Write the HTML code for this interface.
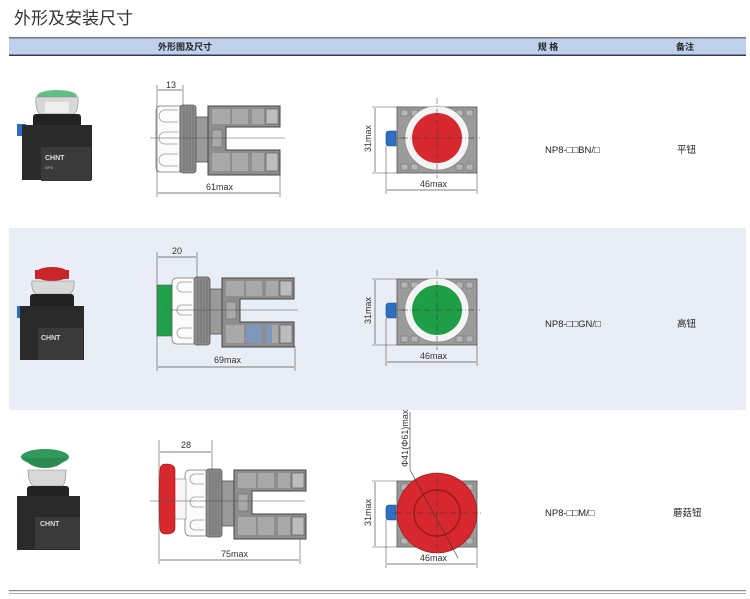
<!DOCTYPE html>
<html><head><meta charset="utf-8"><style>
body{margin:0;background:#fff;}
svg{display:block;font-family:"Liberation Sans","Noto Sans CJK SC",sans-serif;}
</style></head><body>
<svg width="750" height="599" viewBox="0 0 750 599" xmlns="http://www.w3.org/2000/svg">
<defs>
<g id="body">
  <!-- ring -->
  <rect x="180" y="105" width="16" height="68" rx="3" fill="#8c8c8c" stroke="#555" stroke-width="0.8"/>
  <g stroke="#666" stroke-width="0.7">
    <line x1="184" y1="107" x2="184" y2="171"/><line x1="187" y1="107" x2="187" y2="171"/>
    <line x1="190" y1="107" x2="190" y2="171"/><line x1="193" y1="107" x2="193" y2="171"/>
  </g>
  <rect x="196" y="117" width="12" height="45" fill="#9a9a9a" stroke="#555" stroke-width="0.8"/>
  <path d="M208 106 H280 V127 H226 V150 H280 V175 H208 Z" fill="#8e8e8e" stroke="#444" stroke-width="1"/>
  <rect x="212" y="109" width="18" height="15" fill="#a9a9a9"/>
  <rect x="232" y="109" width="16" height="15" fill="#a9a9a9"/>
  <rect x="252" y="109" width="12" height="15" fill="#a9a9a9"/>
  <rect x="212" y="153" width="18" height="18" fill="#a9a9a9"/>
  <rect x="232" y="153" width="16" height="18" fill="#a9a9a9"/>
  <rect x="252" y="153" width="12" height="18" fill="#a9a9a9"/>
  <rect x="266" y="109" width="12" height="15" fill="#bdbdbd" stroke="#555" stroke-width="0.6"/>
  <rect x="266" y="153" width="12" height="18" fill="#bdbdbd" stroke="#555" stroke-width="0.6"/>
  <rect x="212" y="130" width="10" height="17" fill="#a9a9a9" stroke="#666" stroke-width="0.5"/>
</g>
<g id="cap">
  <path d="M160 106 H180 V172 H160 Q156 172 156 166 V112 Q156 106 160 106 Z" fill="#fbfbfb" stroke="#777" stroke-width="0.8"/>
  <g fill="none" stroke="#999" stroke-width="0.8">
    <path d="M178 110 H165 A6 6 0 0 0 165 122 H178"/>
    <path d="M178 132 H165 A6 6 0 0 0 165 144 H178"/>
    <path d="M178 154 H165 A6 6 0 0 0 165 166 H178"/>
  </g>
</g>
<g id="front">
  <rect x="397" y="107" width="80" height="66" fill="#9b9b9b" stroke="#555" stroke-width="0.8"/>
  <g fill="#b5b5b5" stroke="#666" stroke-width="0.5">
    <rect x="401" y="110" width="7" height="6"/><rect x="411" y="110" width="7" height="6"/><rect x="456" y="110" width="7" height="6"/><rect x="466" y="110" width="7" height="6"/>
    <rect x="401" y="164" width="7" height="6"/><rect x="411" y="164" width="7" height="6"/><rect x="456" y="164" width="7" height="6"/><rect x="466" y="164" width="7" height="6"/>
  </g>
  <path d="M389 131 H396 V146 H389 Q386 146 386 143 V134 Q386 131 389 131 Z" fill="#2f6fc0" stroke="#1b4a8a" stroke-width="0.6"/>
  <line x1="396" y1="138" x2="405" y2="138" stroke="#555" stroke-width="0.6"/>
  <line x1="372" y1="107" x2="397" y2="107" stroke="#555" stroke-width="0.6"/>
  <line x1="372" y1="173" x2="397" y2="173" stroke="#555" stroke-width="0.6"/>
  <line x1="375" y1="108" x2="375" y2="172" stroke="#555" stroke-width="0.7"/>
  <text x="0" y="0" font-size="9" fill="#333" transform="translate(371 152) rotate(-90)">31max</text>
  <line x1="386" y1="146" x2="386" y2="194" stroke="#555" stroke-width="0.6"/>
  <line x1="477" y1="173" x2="477" y2="194" stroke="#555" stroke-width="0.6"/>
  <line x1="387" y1="190" x2="476" y2="190" stroke="#555" stroke-width="0.7"/>
  <text x="420" y="187" font-size="9" fill="#333">46max</text>
</g>
</defs>

<text x="14" y="24" font-size="17" fill="#333">外形及安装尺寸</text>

<!-- header -->
<rect x="9" y="37" width="737" height="19" fill="#bfd1ea"/>
<rect x="9" y="37" width="737" height="1.5" fill="#777"/>
<rect x="9" y="54.5" width="737" height="1.5" fill="#2e3a55"/>
<text x="185" y="50" font-size="9" font-weight="bold" fill="#222" text-anchor="middle">外形图及尺寸</text>
<text x="548" y="50" font-size="9" font-weight="bold" fill="#222" text-anchor="middle">规 格</text>
<text x="685" y="50" font-size="9" font-weight="bold" fill="#222" text-anchor="middle">备注</text>

<!-- row 2 bg -->
<rect x="9" y="228" width="737" height="182" fill="#e8edf6"/>

<!-- bottom lines -->
<rect x="9" y="590" width="737" height="1.2" fill="#888"/>
<rect x="9" y="593" width="737" height="1" fill="#aaa"/>

<!-- spec text -->
<g font-size="9.5" fill="#222">
<text x="545" y="153">NP8-□□BN/□</text><text x="677" y="153">平钮</text>
<text x="545" y="327">NP8-□□GN/□</text><text x="677" y="327">高钮</text>
<text x="545" y="516">NP8-□□M/□</text><text x="673" y="516">蘑菇钮</text>
</g>

<!-- photos -->
<g id="photo1">
  <ellipse cx="57" cy="96" rx="20" ry="6" fill="#5fbf85"/>
  <path d="M36 97 Q35 110 40 114 H74 Q79 110 78 97 Z" fill="#d8d8d8" stroke="#888" stroke-width="0.6"/>
  <rect x="45" y="102" width="24" height="11" fill="#eee"/>
  <rect x="33" y="114" width="48" height="16" rx="3" fill="#222"/>
  <rect x="17" y="124" width="9" height="12" fill="#2a6cc0"/>
  <rect x="22" y="125" width="70" height="55" fill="#2a2a2a"/>
  <rect x="41" y="147" width="50" height="34" fill="#3a3a3a"/>
  <text x="45" y="160" font-size="7" font-weight="bold" fill="#ddd">CHNT</text>
  <text x="45" y="169" font-size="4" fill="#bbb">NP8</text>
</g>
<g transform="translate(0,178)">
  <ellipse cx="52" cy="96" rx="17" ry="7" fill="#c8262a"/>
  <rect x="35" y="92" width="34" height="9" fill="#c8262a"/>
  <path d="M32 103 Q31 112 36 116 H70 Q75 112 74 103 Z" fill="#d8d8d8" stroke="#888" stroke-width="0.6"/>
  <rect x="30" y="116" width="44" height="16" rx="3" fill="#222"/>
  <rect x="17" y="128" width="9" height="12" fill="#2a6cc0"/>
  <rect x="20" y="128" width="64" height="54" fill="#2a2a2a"/>
  <rect x="38" y="150" width="45" height="32" fill="#3a3a3a"/>
  <text x="41" y="162" font-size="7" font-weight="bold" fill="#ddd">CHNT</text>
</g>
<g transform="translate(0,400)">
  <ellipse cx="45" cy="57" rx="24" ry="8" fill="#2f9a5c"/>
  <path d="M24 58 Q30 68 45 68 Q60 68 66 58 Z" fill="#2a8a50"/>
  <path d="M28 70 Q28 82 33 86 H63 Q66 82 66 70 Z" fill="#d8d8d8" stroke="#888" stroke-width="0.6"/>
  <rect x="27" y="86" width="42" height="14" rx="3" fill="#222"/>
  <rect x="17" y="96" width="9" height="12" fill="#2a6cc0"/>
  <rect x="17" y="96" width="63" height="54" fill="#2a2a2a"/>
  <rect x="35" y="117" width="45" height="32" fill="#3a3a3a"/>
  <text x="40" y="126" font-size="7" font-weight="bold" fill="#ddd">CHNT</text>
</g>

<!-- row1 side -->
<use href="#cap"/>
<use href="#body"/>
<line x1="150" y1="138" x2="285" y2="138" stroke="#555" stroke-width="0.6"/>
<line x1="157" y1="85" x2="157" y2="197" stroke="#555" stroke-width="0.6"/>
<line x1="183" y1="85" x2="183" y2="106" stroke="#555" stroke-width="0.6"/>
<line x1="158" y1="90" x2="182" y2="90" stroke="#555" stroke-width="0.7"/>
<text x="166" y="88" font-size="9" fill="#333">13</text>
<line x1="280" y1="175" x2="280" y2="197" stroke="#555" stroke-width="0.6"/>
<line x1="158" y1="193" x2="279" y2="193" stroke="#555" stroke-width="0.7"/>
<text x="206" y="190" font-size="9" fill="#333">61max</text>
<!-- row1 front -->
<use href="#front"/>
<circle cx="437" cy="138" r="32" fill="#f4f4f4" stroke="#888" stroke-width="0.6"/>
<circle cx="437" cy="138" r="25" fill="#d6282e"/>
<line x1="402" y1="138" x2="480" y2="138" stroke="#333" stroke-width="0.5" stroke-dasharray="6 2 1 2"/>
<line x1="437" y1="98" x2="437" y2="178" stroke="#333" stroke-width="0.5" stroke-dasharray="6 2 1 2"/>

<!-- row2 side -->
<g transform="translate(14,172)">
  <use href="#body"/>
  <path d="M163 106 H180 V172 H163 Q158 172 158 166 V112 Q158 106 163 106 Z" fill="#fbfbfb" stroke="#777" stroke-width="0.8"/>
  <g fill="none" stroke="#999" stroke-width="0.8">
    <path d="M178 110 H168 A5 5 0 0 0 168 120 H178"/>
    <path d="M178 133 H168 A5 5 0 0 0 168 143 H178"/>
    <path d="M178 156 H168 A5 5 0 0 0 168 166 H178"/>
  </g>
  <rect x="232" y="153" width="16" height="18" fill="#7f97bd"/>
  <rect x="252" y="153" width="6" height="18" fill="#7f97bd"/>
</g>
<rect x="157" y="285" width="15" height="51" fill="#1fa04a" stroke="#555" stroke-width="0.6"/>
<line x1="165" y1="310" x2="298" y2="310" stroke="#555" stroke-width="0.6"/>
<line x1="157" y1="252" x2="157" y2="371" stroke="#555" stroke-width="0.6"/>
<line x1="197" y1="252" x2="197" y2="278" stroke="#555" stroke-width="0.6"/>
<line x1="158" y1="257" x2="196" y2="257" stroke="#555" stroke-width="0.7"/>
<text x="172" y="254" font-size="9" fill="#333">20</text>
<line x1="295" y1="346" x2="295" y2="371" stroke="#555" stroke-width="0.6"/>
<line x1="158" y1="367" x2="294" y2="367" stroke="#555" stroke-width="0.7"/>
<text x="214" y="363" font-size="9" fill="#333">69max</text>
<!-- row2 front -->
<g transform="translate(0,172)"><use href="#front"/>
<circle cx="437" cy="138" r="32" fill="#f4f4f4" stroke="#888" stroke-width="0.6"/>
<circle cx="437" cy="138" r="25" fill="#1f9e48"/>
<line x1="402" y1="138" x2="480" y2="138" stroke="#333" stroke-width="0.5" stroke-dasharray="6 2 1 2"/>
<line x1="437" y1="98" x2="437" y2="178" stroke="#333" stroke-width="0.5" stroke-dasharray="6 2 1 2"/>
</g>

<!-- row3 side -->
<g transform="translate(26,364)">
  <use href="#body"/>
  <path d="M164 106 H180 V172 H164 Q159 172 159 166 V112 Q159 106 164 106 Z" fill="#fbfbfb" stroke="#777" stroke-width="0.8"/>
  <g fill="none" stroke="#999" stroke-width="0.8">
    <path d="M178 110 H169 A5 5 0 0 0 169 120 H178"/>
    <path d="M178 133 H169 A5 5 0 0 0 169 143 H178"/>
    <path d="M178 156 H169 A5 5 0 0 0 169 166 H178"/>
  </g>
</g>
<rect x="174" y="479" width="12" height="40" fill="#f6f6f6" stroke="#888" stroke-width="0.6"/>
<path d="M166 464 Q175 464 175 470 V528 Q175 534 166 534 Q160 534 160 528 Q158 499 160 470 Q160 464 166 464 Z" fill="#d6282e" stroke="#a01010" stroke-width="0.6"/>
<line x1="150" y1="501" x2="305" y2="501" stroke="#555" stroke-width="0.6"/>
<line x1="159" y1="440" x2="159" y2="564" stroke="#555" stroke-width="0.6"/>
<line x1="212" y1="440" x2="212" y2="470" stroke="#555" stroke-width="0.6"/>
<line x1="160" y1="452" x2="211" y2="452" stroke="#555" stroke-width="0.7"/>
<text x="181" y="448" font-size="9" fill="#333">28</text>
<line x1="300" y1="539" x2="300" y2="564" stroke="#555" stroke-width="0.6"/>
<line x1="160" y1="560" x2="299" y2="560" stroke="#555" stroke-width="0.7"/>
<text x="221" y="557" font-size="9" fill="#333">75max</text>
<!-- row3 front -->
<g transform="translate(0,374)"><use href="#front"/></g>
<circle cx="437" cy="513" r="40" fill="#d6282e" stroke="#a01010" stroke-width="0.6"/>
<circle cx="437" cy="513" r="23" fill="none" stroke="#a01818" stroke-width="1.5"/>
<line x1="395" y1="513" x2="483" y2="513" stroke="#333" stroke-width="0.5" stroke-dasharray="6 2 1 2"/>
<line x1="437" y1="478" x2="437" y2="550" stroke="#333" stroke-width="0.5" stroke-dasharray="6 2 1 2"/>
<line x1="410" y1="470" x2="458" y2="558" stroke="#333" stroke-width="0.6"/>
<line x1="410" y1="412" x2="410" y2="470" stroke="#333" stroke-width="0.6"/>
<text x="0" y="0" font-size="9" fill="#333" transform="translate(408 467) rotate(-90)">Φ41(Φ61)max</text>
</svg>
</body></html>
